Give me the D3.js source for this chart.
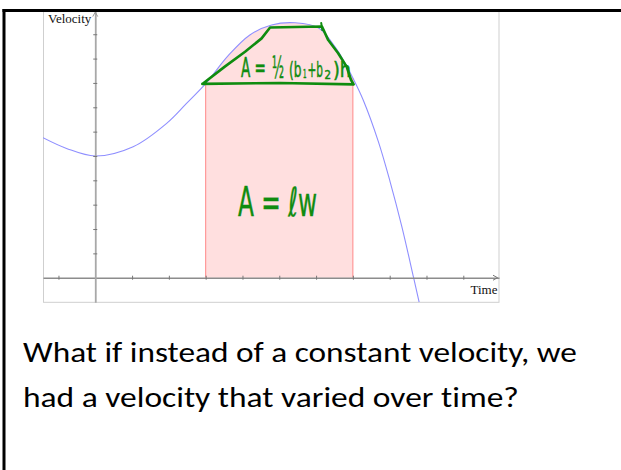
<!DOCTYPE html>
<html>
<head>
<meta charset="utf-8">
<script src="https://cdn.jsdelivr.net/npm/d3@7"></script>
<style>
  html, body { margin: 0; padding: 0; background: #fff; overflow: hidden; }
  svg { display: block; }
  text { font-variant-ligatures: none; }
</style>
</head>
<body>
<svg id="chart" width="621" height="470"></svg>
<script>
// Velocity curve samples: time and velocity
const curveTime     = [-1.42, -0.78, 0.00, 1.03, 1.94, 2.48, 3.00, 3.60, 4.20, 4.79, 5.43, 6.08, 6.51, 6.74, 7.00, 7.28, 7.69, 8.01, 8.33, 8.65, 8.80];
const curveVelocity = [ 5.75,  5.31, 5.00, 5.38, 6.34, 7.16, 7.97, 9.10, 9.97, 10.38, 10.47, 10.25, 9.49, 8.94, 8.20, 7.30, 5.60, 3.95, 2.10, 0.00, -1.00];

// Shaded interval under the curve
const intervalStart = 3;
const intervalEnd = 7;

// Tick positions on both axes
const xTickValues = [-1, 1, 2, 3, 4, 5, 6, 7, 8, 9, 10];
const yTickValues = [1, 2, 3, 4, 5, 6, 7, 8, 9, 10];

// Hand-drawn trapezoid over the top of the shaded region (time, velocity)
const trapTime     = [2.91, 3.52, 4.07, 4.52, 4.75, 6.16, 6.33, 6.60, 6.83, 6.95, 7.02, 5.02, 2.91];
const trapVelocity = [7.96, 8.67, 9.28, 9.83, 10.28, 10.32, 9.76, 9.22, 8.67, 8.12, 7.94, 8.00, 7.96];
const trapTickTime     = [6.14, 6.17];
const trapTickVelocity = [10.46, 10.17];

const axisLabels = { x: "Time", y: "Velocity" };
// trapezoid area formula, written piece by piece
const trapFormula = ["A =", "½", "(b", "1", "+b", "2", ")h"];
const rectFormula = "A = ℓw";
const captionLines = [
  "What if instead of a constant velocity, we",
  "had a velocity that varied over time?"
];

const svg = d3.select("#chart");
const plotLeft = 43, plotRight = 499, plotTop = 11.6, plotBottom = 302.3;

const x = d3.scaleLinear().domain([-1.42, 10.97]).range([plotLeft, plotRight]);
const y = d3.scaleLinear().domain([-1.01, 10.93]).range([plotBottom, plotTop]);

const curvePts = curveTime.map((t, i) => ({ t, v: curveVelocity[i] }));
const smooth = d3.curveCatmullRom.alpha(0.5);

// place a text at (lx, by) and squeeze it horizontally to the given width
function fitText(sel, lx, by, width) {
  const natural = sel.node().getComputedTextLength();
  sel.attr("x", 0).attr("y", 0)
    .attr("transform", `translate(${lx},${by}) scale(${width / natural},1)`);
  return sel;
}

// clipping
const defs = svg.append("defs");
defs.append("clipPath").attr("id", "plotClip")
  .append("rect").attr("x", plotLeft).attr("y", plotTop)
  .attr("width", plotRight - plotLeft).attr("height", plotBottom - plotTop);
defs.append("clipPath").attr("id", "bandClip")
  .append("rect").attr("x", x(intervalStart)).attr("y", plotTop)
  .attr("width", x(intervalEnd) - x(intervalStart)).attr("height", plotBottom - plotTop);

// plot frame
svg.append("rect")
  .attr("x", plotLeft + 0.5).attr("y", plotTop)
  .attr("width", plotRight - plotLeft - 0.5).attr("height", plotBottom - plotTop)
  .attr("fill", "none").attr("stroke", "#cfcfcf").attr("stroke-width", 1);

// shaded area under the curve between the two times
const plot = svg.append("g").attr("clip-path", "url(#plotClip)");
plot.append("g").attr("clip-path", "url(#bandClip)")
  .append("path")
  .datum(curvePts)
  .attr("fill", "#ffdfdf")
  .attr("d", d3.area().x(d => x(d.t)).y0(y(0)).y1(d => y(d.v)).curve(smooth));

// interval edges
[intervalStart, intervalEnd].forEach(t => {
  const v = curveVelocity[curveTime.indexOf(t)];
  plot.append("line")
    .attr("x1", x(t)).attr("x2", x(t))
    .attr("y1", y(0)).attr("y2", y(v))
    .attr("stroke", "#ff8888").attr("stroke-width", 1);
});

// axes through the origin
const xAxis = d3.axisBottom(x).tickValues(xTickValues).tickSize(2).tickSizeOuter(0).tickFormat("");
const gx = svg.append("g").attr("transform", `translate(0,${y(0)})`).call(xAxis);
gx.select(".domain").attr("stroke", "#8c8c8c").attr("stroke-width", 1.4);
gx.selectAll(".tick line").attr("y1", -2).attr("stroke", "#777");

const yAxis = d3.axisLeft(y).tickValues(yTickValues).tickSize(2).tickSizeOuter(0).tickFormat("");
const gy = svg.append("g").attr("transform", `translate(${x(0)},0)`).call(yAxis);
gy.select(".domain").attr("stroke", "#a8a8a8").attr("stroke-width", 1.8);
gy.selectAll(".tick line").attr("x1", 2).attr("stroke", "#777");

// arrow heads
svg.append("path")
  .attr("d", `M${plotRight - 6},${y(0) - 2.5} L${plotRight - 1.5},${y(0)} L${plotRight - 6},${y(0) + 2.5}`)
  .attr("fill", "none").attr("stroke", "#777").attr("stroke-width", 1);
svg.append("path")
  .attr("d", `M${x(0) - 2.5},${plotTop + 5} L${x(0)},${plotTop + 0.5} L${x(0) + 2.5},${plotTop + 5}`)
  .attr("fill", "none").attr("stroke", "#999").attr("stroke-width", 1);

// velocity curve
plot.append("path")
  .datum(curvePts)
  .attr("fill", "none")
  .attr("stroke", "#8f8fff")
  .attr("stroke-width", 1.1)
  .attr("d", d3.line().x(d => x(d.t)).y(d => y(d.v)).curve(smooth));

// axis titles
svg.append("text")
  .attr("x", 48).attr("y", 22.7)
  .attr("font-family", "'Liberation Serif', 'Times New Roman', serif")
  .attr("font-size", 13).attr("fill", "#111")
  .text(axisLabels.y);
svg.append("text")
  .attr("x", 497.5).attr("y", 293.5).attr("text-anchor", "end")
  .attr("font-family", "'Liberation Serif', 'Times New Roman', serif")
  .attr("font-size", 13).attr("fill", "#111")
  .text(axisLabels.x);

// hand-drawn annotations
const ink = "#0f8c0f";
const trapPts = trapTime.map((t, i) => [x(t), y(trapVelocity[i])]);
svg.append("path")
  .attr("d", d3.line().curve(d3.curveLinear)(trapPts))
  .attr("fill", "none").attr("stroke", ink).attr("stroke-width", 2.6)
  .attr("stroke-linejoin", "round").attr("stroke-linecap", "round");
svg.append("path")
  .attr("d", d3.line()(trapTickTime.map((t, i) => [x(t), y(trapTickVelocity[i])])))
  .attr("fill", "none").attr("stroke", ink).attr("stroke-width", 2)
  .attr("stroke-linecap", "round");

const hand = "'DejaVu Sans Condensed', 'Liberation Sans Narrow', 'DejaVu Sans', sans-serif";
// placement of each formula piece: left, width, baseline, font size
const trapLayout = [
  [241, 25, 76.5, 27],
  [272, 12, 78, 30],
  [289, 12.5, 77, 22],
  [303, 3.5, 78, 12],
  [307.5, 15.5, 77, 22],
  [324.5, 6.5, 78.5, 12],
  [333, 18, 77, 22]
];
trapFormula.forEach((piece, i) => {
  const [lx, w, by, fs] = trapLayout[i];
  const t = svg.append("text")
    .attr("font-family", hand).attr("font-size", fs)
    .attr("fill", ink).attr("stroke", ink).attr("stroke-width", 0.5)
    .text(piece);
  fitText(t, lx, by, w);
});

const rectText = svg.append("text")
  .attr("font-family", hand).attr("font-size", 40)
  .attr("fill", ink).attr("stroke", ink).attr("stroke-width", 0.4)
  .text(rectFormula);
fitText(rectText, 238, 216, 79);

// caption below the chart
const capFont = "Carlito, Calibri, Lato, 'Open Sans', sans-serif";
const capWidths = [554, 496];
captionLines.forEach((line, i) => {
  const t = svg.append("text")
    .attr("font-family", capFont).attr("font-size", 28)
    .attr("fill", "#000")
    .text(line);
  fitText(t, 23, 361.7 + i * 45, capWidths[i]);
});

// page frame
svg.append("rect").attr("x", 2.5).attr("y", 9).attr("width", 3).attr("height", 461).attr("fill", "#000");
svg.append("rect").attr("x", 2.5).attr("y", 9).attr("width", 618.5).attr("height", 3).attr("fill", "#000");
</script>
</body>
</html>
